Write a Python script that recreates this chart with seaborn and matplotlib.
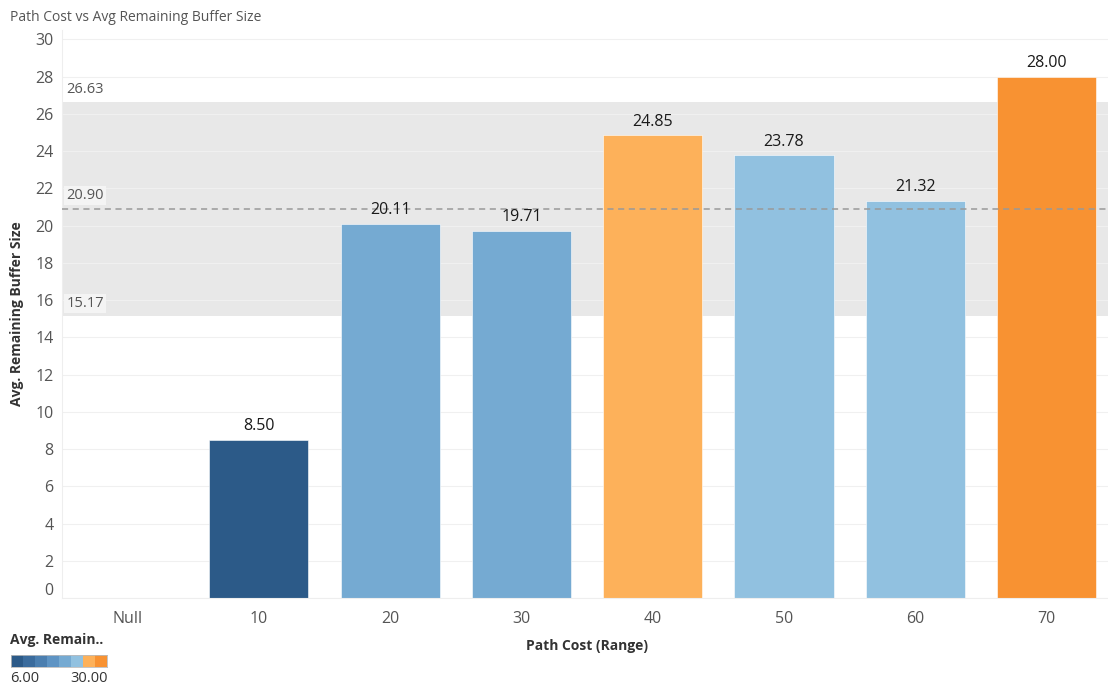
import numpy as np
import pandas as pd
import matplotlib
matplotlib.use("Agg")
import matplotlib.pyplot as plt
import matplotlib.transforms as mtransforms
from matplotlib.colors import ListedColormap, BoundaryNorm
import seaborn as sns

# data
categories = ["Null", "10", "20", "30", "40", "50", "60", "70"]
bar_cats = ["10", "20", "30", "40", "50", "60", "70"]
avg_buffer = [8.50, 20.11, 19.71, 24.85, 23.78, 21.32, 28.00]
ref_lower = 15.17
ref_mean = 20.90
ref_upper = 26.63
yticks = list(range(0, 31, 2))

# stepped orange-blue diverging scale, 6 to 30
step_colors = ["#2c5a88", "#3b6c9d", "#4b7fb0", "#5e94c4", "#75aad2",
               "#91c1e0", "#fdb15a", "#f89232"]
cmap = ListedColormap(step_colors)
norm = BoundaryNorm(np.linspace(6, 30, 9), cmap.N)

sns.set_style("white")
plt.rcParams["font.family"] = ["Open Sans", "DejaVu Sans"]

df = pd.DataFrame({"Path Cost": bar_cats, "Avg": avg_buffer})
palette = {c: cmap(norm(v)) for c, v in zip(bar_cats, avg_buffer)}

fig = plt.figure(figsize=(11.08, 6.87), dpi=100)
ax = fig.add_axes([0.056, 0.1295, 0.9477, 0.8268])

# reference band + average line
ax.axhspan(ref_lower, ref_upper, color="#e8e8e8", zorder=0, lw=0)
for t in yticks:
    ax.axhline(t, color="#f0f0f0", lw=0.8, zorder=0.5)
ax.axhline(ref_mean, color="#999999", lw=1.1, ls=(0, (4, 3)), zorder=3)

sns.barplot(data=df, x="Path Cost", y="Avg", hue="Path Cost", order=categories,
            palette=palette, saturation=1, width=0.755, legend=False, ax=ax,
            edgecolor="#ffffff", linewidth=0.4, zorder=2)

for c, v in zip(bar_cats, avg_buffer):
    ax.text(categories.index(c), v + 0.3, f"{v:.2f}", ha="center", va="bottom",
            fontsize=11.5, color="#1a1a1a", zorder=4)

box = dict(boxstyle="square,pad=0.15", fc="#f4f4f4", ec="none")
ytr = ax.get_yaxis_transform()
ax.text(0.004, ref_upper + 0.3, f"{ref_upper:.2f}", fontsize=10.5, color="#555555",
        transform=ytr, ha="left", va="bottom", zorder=4)
ax.text(0.004, ref_mean + 0.3, f"{ref_mean:.2f}", fontsize=10.5, color="#555555",
        transform=ytr, ha="left", va="bottom", bbox=box, zorder=4)
ax.text(0.004, ref_lower + 0.25, f"{ref_lower:.2f}", fontsize=10.5, color="#555555",
        transform=ytr, ha="left", va="bottom", bbox=box, zorder=4)

ax.set_ylim(0, 30.5)
ax.set_xlim(-0.5, 7.5)
ax.set_yticks(yticks)
ax.set_xticks(range(len(categories)))
ax.set_xticklabels(categories)
ax.tick_params(axis="both", length=0, labelsize=11.5, labelcolor="#555555", pad=6)
ax.tick_params(axis="x", pad=9)
# bottom tick label nudged up like the original
lbl0 = ax.get_yticklabels()[0]
lbl0.set_transform(lbl0.get_transform() +
                   mtransforms.ScaledTranslation(0, 9 / 100, fig.dpi_scale_trans))
for s in ["top", "right"]:
    ax.spines[s].set_visible(False)
ax.spines["left"].set_color("#eeeeee")
ax.spines["bottom"].set_color("#eeeeee")
ax.set_ylabel("Avg. Remaining Buffer Size", fontsize=10, fontweight="bold",
              color="#333333", labelpad=8)
ax.set_xlabel("Path Cost (Range)", fontsize=10, fontweight="bold",
              color="#333333", labelpad=9)

fig.text(0.009, 0.975, "Path Cost vs Avg Remaining Buffer Size", fontsize=10,
         color="#555555", ha="left", va="center")

# colour legend
fig.text(0.009, 0.068, "Avg. Remain..", fontsize=10, fontweight="bold",
         color="#333333", ha="left", va="center")
lax = fig.add_axes([0.0099, 0.029, 0.0866, 0.0175])
lax.imshow(np.arange(8).reshape(1, -1), cmap=cmap, aspect="auto")
lax.set_xticks([])
lax.set_yticks([])
for s in lax.spines.values():
    s.set_color("#bbbbbb")
    s.set_linewidth(0.6)
fig.text(0.009, 0.013, "6.00", fontsize=10.5, color="#333333", ha="left", va="center")
fig.text(0.097, 0.013, "30.00", fontsize=10.5, color="#333333", ha="right", va="center")

fig.savefig("out.png", dpi=100)
